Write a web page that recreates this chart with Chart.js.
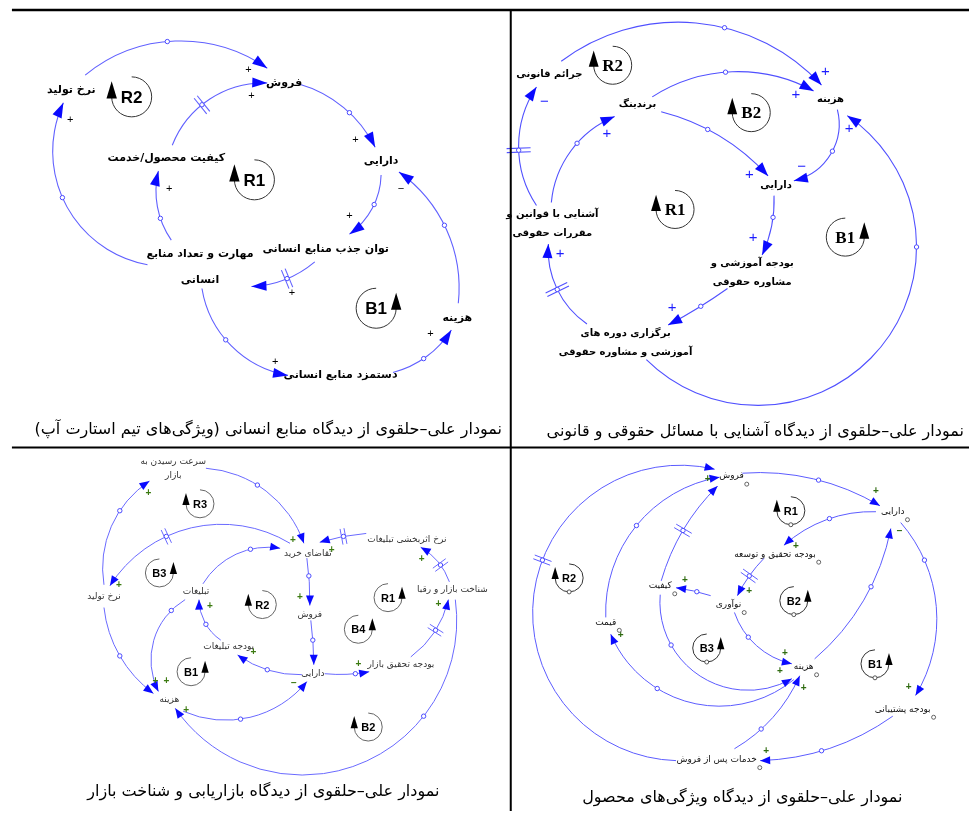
<!DOCTYPE html>
<html>
<head>
<meta charset="utf-8">
<script src="https://cdn.jsdelivr.net/npm/chart.js@4.4.1/dist/chart.umd.min.js"></script>
<style>
  html, body { margin: 0; padding: 0; background: #fff; }
  #wrap { width: 974px; height: 816px; position: relative; }
</style>
</head>
<body>
<div id="wrap"><canvas id="cld"></canvas></div>
<script>
// ---- panel 1: منابع انسانی ----
const p1Labels = ['نرخ تولید', 'فروش', 'کیفیت محصول/خدمت', 'دارایی', 'مهارت و تعداد منابع\nانسانی', 'توان جذب منابع انسانی', 'هزینه', 'دستمزد منابع انسانی'];
const p1X = [67, 282, 163, 380, 197, 324, 457, 339];
const p1Y = [86, 79, 155, 158, 265, 247, 317, 375];
const p1Loops = ['R2', 'R1', 'B1'];
const p1LoopX = [128, 252, 375];
const p1LoopY = [93, 177, 307];
const p1LoopSide = ['L', 'L', 'R'];
// [x1, y1, handleX, handleY, x2, y2, polarity, signX, signY, delay]
const p1Links = [
  [81, 71, 164, 37, 265, 64, '+', 246, 66, 0],
  [169, 142, 199, 101, 265, 79, '+', 249, 92, 1],
  [297, 80, 348, 109, 374, 144, '+', 354, 137, 0],
  [144, 263, 58, 195, 59, 99, '+', 66, 116, 0],
  [168, 238, 157, 216, 155, 168, '+', 166, 186, 0],
  [380, 172, 373, 202, 348, 232, '+', 348, 214, 0],
  [313, 260, 285, 277, 249, 285, '+', 290, 292, 1],
  [458, 302, 444, 223, 398, 169, '−', 400, 186, 0],
  [199, 287, 223, 339, 286, 375, '+', 273, 361, 0],
  [392, 372, 423, 358, 451, 329, '+', 430, 333, 0]
];

// ---- panel 2: مسائل حقوقی و قانونی ----
const p2Labels = ['جرائم قانونی', 'برندینگ', 'هزینه', 'دارایی', 'آشنایی با قوانین و\nمقررات حقوقی', 'بودجه آموزشی و\nمشاوره حقوقی', 'برگزاری دوره های\nآموزشی و مشاوره حقوقی'];
const p2X = [550, 639, 834, 779, 553, 755, 627];
const p2Y = [70, 101, 96, 183, 222, 271, 342];
const p2Loops = ['R2', 'B2', 'R1', 'B1'];
const p2LoopX = [614, 754, 677, 849];
const p2LoopY = [61, 109, 207, 235];
const p2LoopSide = ['L', 'L', 'L', 'R'];
const p2Links = [
  [562, 57, 727, 23, 825, 81, '+', 829, 68, 0],
  [654, 93, 728, 68, 817, 87, '+', 799, 91, 0],
  [663, 108, 710, 126, 771, 173, '+', 752, 172, 0],
  [841, 106, 836, 148, 797, 178, '−', 805, 164, 0],
  [537, 203, 519, 147, 537, 83, '−', 545, 98, 1],
  [552, 200, 578, 140, 616, 113, '+', 608, 130, 0],
  [777, 193, 776, 215, 765, 253, '+', 756, 236, 0],
  [730, 287, 703, 305, 670, 324, '+', 674, 307, 0],
  [588, 323, 558, 288, 549, 242, '+', 561, 252, 1],
  [648, 359, 921, 245, 851, 112, '+', 853, 125, 0]
];

// ---- panel 3: بازاریابی و شناخت بازار ----
const p3Labels = ['سرعت رسیدن به\nبازار', 'نرخ تولید', 'تبلیغات', 'تقاضای خرید', 'نرخ اثربخشی تبلیغات', 'شناخت بازار و رقبا', 'فروش', 'بودجه تبلیغات', 'دارایی', 'بودجه تحقیق بازار', 'هزینه'];
const p3X = [170, 100, 193, 306, 406, 452, 308, 226, 311, 400, 166];
const p3Y = [469, 599, 594, 555, 541, 592, 617, 650, 677, 668, 703];
const p3Loops = ['R3', 'B3', 'R2', 'R1', 'B4', 'B1', 'B2'];
const p3LoopX = [197, 156, 260, 387, 357, 188, 367];
const p3LoopY = [505, 575, 607, 600, 632, 675, 731];
const p3LoopSide = ['L', 'R', 'L', 'R', 'R', 'R', 'L'];
const p3Links = [
  [100, 587, 116, 512, 146, 482, '+', 145, 494, 0],
  [203, 469, 255, 486, 302, 545, '+', 291, 542, 0],
  [288, 545, 163, 538, 106, 588, '+', 115, 587, 1],
  [200, 586, 248, 551, 278, 550, '', 0, 0, 0],
  [365, 535, 342, 538, 318, 544, '+', 330, 552, 1],
  [449, 584, 440, 567, 420, 549, '+', 421, 561, 1],
  [410, 660, 435, 633, 448, 602, '+', 438, 607, 1],
  [305, 560, 307, 578, 308, 608, '+', 298, 600, 0],
  [309, 623, 311, 643, 312, 668, '', 0, 0, 0],
  [300, 678, 265, 673, 235, 658, '+', 251, 655, 0],
  [323, 677, 354, 677, 368, 675, '+', 357, 667, 0],
  [218, 643, 203, 627, 196, 602, '+', 207, 609, 0],
  [182, 602, 168, 613, 155, 695, '+', 163, 685, 0],
  [100, 610, 116, 659, 150, 697, '+', 152, 685, 0],
  [180, 715, 238, 723, 305, 685, '−', 292, 687, 0],
  [455, 602, 423, 720, 172, 712, '+', 183, 714, 0]
];

// ---- panel 4: ویژگی‌های محصول ----
const p4Labels = ['فروش', 'دارایی', 'بودجه تحقیق و توسعه', 'کیفیت', 'نوآوری', 'قیمت', 'هزینه', 'بودجه پشتیبانی', 'خدمات پس از فروش'];
const p4X = [734, 897, 778, 662, 731, 607, 807, 907, 719];
const p4Y = [477, 513, 556, 588, 607, 625, 670, 713, 764];
const p4Loops = ['R1', 'B2', 'R2', 'B3', 'B1'];
const p4LoopX = [794, 797, 570, 709, 879];
const p4LoopY = [512, 603, 580, 651, 667];
const p4LoopSide = ['L', 'R', 'L', 'R', 'R'];
const p4Links = [
  [745, 474, 822, 481, 884, 507, '+', 880, 492, 0],
  [880, 513, 833, 520, 787, 547, '+', 799, 548, 0],
  [767, 560, 752, 578, 740, 598, '+', 752, 594, 1],
  [713, 598, 699, 594, 678, 590, '+', 687, 582, 0],
  [663, 583, 685, 532, 720, 487, '', 0, 0, 1],
  [607, 620, 638, 527, 722, 478, '+', 710, 480, 0],
  [678, 765, 543, 562, 717, 470, '', 0, 0, 1],
  [662, 597, 673, 648, 795, 682, '+', 783, 675, 0],
  [737, 615, 751, 640, 795, 667, '+', 788, 656, 0],
  [797, 683, 659, 692, 612, 637, '+', 622, 638, 0],
  [737, 753, 764, 733, 803, 679, '+', 807, 692, 0],
  [818, 662, 875, 589, 895, 530, '−', 904, 533, 0],
  [905, 524, 929, 562, 920, 699, '+', 913, 691, 0],
  [897, 720, 825, 755, 763, 765, '+', 769, 756, 0]
];

const captions = [
  'نمودار علی–حلقوی از دیدگاه منابع انسانی (ویژگی‌های تیم استارت آپ)',
  'نمودار علی–حلقوی از دیدگاه آشنایی با مسائل حقوقی و قانونی',
  'نمودار علی–حلقوی از دیدگاه بازاریابی و شناخت بازار',
  'نمودار علی–حلقوی از دیدگاه ویژگی‌های محصول'
];
const captionX = [266, 758, 261, 745];
const captionY = [430, 432, 797, 803];

const FA = '"DejaVu Sans"';
const panels = [
  { labels: p1Labels, x: p1X, y: p1Y, loops: p1Loops, lx: p1LoopX, ly: p1LoopY, side: p1LoopSide, links: p1Links,
    font: 'bold 11px ' + FA, color: '#000', lh: 26, loopFont: 'bold 17px "Liberation Sans"', loopR: 20,
    head: [15, 5], delay: 10, signFont: '11px "Liberation Sans"', sign: '#000', line: '#6060ff', lw: 1.1 },
  { labels: p2Labels, x: p2X, y: p2Y, loops: p2Loops, lx: p2LoopX, ly: p2LoopY, side: p2LoopSide, links: p2Links,
    font: 'bold 10px ' + FA, color: '#000', lh: 19, loopFont: 'bold 17px "Liberation Serif"', loopR: 19,
    head: [14, 5], delay: 12, signFont: '15px "Liberation Sans"', sign: '#1d1dff', line: '#5050ff', lw: 1.1 },
  { labels: p3Labels, x: p3X, y: p3Y, loops: p3Loops, lx: p3LoopX, ly: p3LoopY, side: p3LoopSide, links: p3Links,
    font: '9px ' + FA, color: '#333', lh: 14, loopFont: 'bold 11px "Liberation Sans"', loopR: 14,
    head: [10, 4], delay: 8, signFont: 'bold 10px "Liberation Sans"', sign: '#3b7a10', line: '#6a6aff', lw: 1, loopColor: '#666' },
  { labels: p4Labels, x: p4X, y: p4Y, loops: p4Loops, lx: p4LoopX, ly: p4LoopY, side: p4LoopSide, links: p4Links,
    font: '9px ' + FA, color: '#111', lh: 14, loopFont: 'bold 11px "Liberation Sans"', loopR: 14,
    head: [10, 4], delay: 9, signFont: 'bold 10px "Liberation Sans"', sign: '#2f6b10', line: '#5c5cff', lw: 1, loopDot: true }
];

const TAU = Math.PI * 2;
const norm = v => ((v % TAU) + TAU) % TAU;

// circle through start, handle and end (Vensim style arc)
function arcGeom(a, h, b) {
  const d = 2 * (a.x * (h.y - b.y) + h.x * (b.y - a.y) + b.x * (a.y - h.y));
  if (Math.abs(d) < 1e-3) return null;
  const a2 = a.x * a.x + a.y * a.y, h2 = h.x * h.x + h.y * h.y, b2 = b.x * b.x + b.y * b.y;
  const cx = (a2 * (h.y - b.y) + h2 * (b.y - a.y) + b2 * (a.y - h.y)) / d;
  const cy = (a2 * (b.x - h.x) + h2 * (a.x - b.x) + b2 * (h.x - a.x)) / d;
  const r = Math.hypot(a.x - cx, a.y - cy);
  if (r > 4000) return null;
  const t0 = Math.atan2(a.y - cy, a.x - cx);
  const th = Math.atan2(h.y - cy, h.x - cx);
  const t1 = Math.atan2(b.y - cy, b.x - cx);
  const cw = norm(th - t0) < norm(t1 - t0);
  return { cx, cy, r, t0, th, t1, cw };
}

function tangentAt(g, t) {
  return g.cw ? { x: -Math.sin(t), y: Math.cos(t) } : { x: Math.sin(t), y: -Math.cos(t) };
}

function linkPoints(chart, l) {
  const sx = chart.scales.x, sy = chart.scales.y;
  return {
    a: { x: sx.getPixelForValue(l[0]), y: sy.getPixelForValue(l[1]) },
    h: { x: sx.getPixelForValue(l[2]), y: sy.getPixelForValue(l[3]) },
    b: { x: sx.getPixelForValue(l[4]), y: sy.getPixelForValue(l[5]) }
  };
}

const arcsPlugin = {
  id: 'cldArcs',
  beforeDatasetsDraw(chart) {
    const { ctx } = chart;
    ctx.save();
    panels.forEach(p => {
      ctx.strokeStyle = p.line;
      ctx.lineWidth = p.lw;
      p.links.forEach(l => {
        const { a, h, b } = linkPoints(chart, l);
        const g = arcGeom(a, h, b);
        ctx.beginPath();
        if (g) {
          ctx.arc(g.cx, g.cy, g.r, g.t0, g.t1, !g.cw);
        } else {
          ctx.moveTo(a.x, a.y);
          ctx.lineTo(b.x, b.y);
        }
        ctx.stroke();
        // delay mark
        if (l[9]) {
          let dir, nrm;
          if (g) {
            dir = tangentAt(g, g.th);
            nrm = { x: Math.cos(g.th), y: Math.sin(g.th) };
          } else {
            const len = Math.hypot(b.x - a.x, b.y - a.y);
            dir = { x: (b.x - a.x) / len, y: (b.y - a.y) / len };
            nrm = { x: -dir.y, y: dir.x };
          }
          [-2, 2].forEach(off => {
            ctx.beginPath();
            ctx.moveTo(h.x + dir.x * off - nrm.x * p.delay, h.y + dir.y * off - nrm.y * p.delay);
            ctx.lineTo(h.x + dir.x * off + nrm.x * p.delay, h.y + dir.y * off + nrm.y * p.delay);
            ctx.stroke();
          });
        }
      });
    });
    ctx.restore();
  },
  afterDatasetsDraw(chart) {
    const { ctx } = chart;
    const sx = chart.scales.x, sy = chart.scales.y;
    ctx.save();

    panels.forEach(p => {
      // arrowheads
      ctx.fillStyle = '#0a0aff';
      p.links.forEach(l => {
        const { a, h, b } = linkPoints(chart, l);
        const g = arcGeom(a, h, b);
        let dir;
        if (g) dir = tangentAt(g, g.t1);
        else {
          const len = Math.hypot(b.x - a.x, b.y - a.y);
          dir = { x: (b.x - a.x) / len, y: (b.y - a.y) / len };
        }
        const [hl, hw] = p.head;
        const bx = b.x - dir.x * hl, by = b.y - dir.y * hl;
        ctx.beginPath();
        ctx.moveTo(b.x, b.y);
        ctx.lineTo(bx - dir.y * hw, by + dir.x * hw);
        ctx.lineTo(bx + dir.y * hw, by - dir.x * hw);
        ctx.closePath();
        ctx.fill();
      });

      // polarity signs
      ctx.font = p.signFont;
      ctx.fillStyle = p.sign;
      ctx.textAlign = 'center';
      ctx.textBaseline = 'middle';
      ctx.direction = 'ltr';
      p.links.forEach(l => {
        if (!l[6]) return;
        ctx.fillText(l[6], sx.getPixelForValue(l[7]), sy.getPixelForValue(l[8]));
      });

      // variable names
      ctx.font = p.font;
      ctx.fillStyle = p.color;
      ctx.direction = 'rtl';
      p.labels.forEach((txt, i) => {
        const lines = txt.split('\n');
        const cx = sx.getPixelForValue(p.x[i]);
        const cy = sy.getPixelForValue(p.y[i]);
        let maxW = 0;
        lines.forEach((ln, k) => {
          ctx.fillText(ln, cx, cy + (k - (lines.length - 1) / 2) * p.lh);
          maxW = Math.max(maxW, ctx.measureText(ln).width);
        });
        if (p.loopDot) {
          ctx.save();
          ctx.beginPath();
          ctx.arc(cx + maxW / 2 + 3, cy + 8, 2, 0, TAU);
          ctx.fillStyle = '#fff';
          ctx.fill();
          ctx.strokeStyle = '#555';
          ctx.lineWidth = 0.9;
          ctx.stroke();
          ctx.restore();
        }
      });

      // loop identifiers
      p.loops.forEach((name, i) => {
        const cx = sx.getPixelForValue(p.lx[i]);
        const cy = sy.getPixelForValue(p.ly[i]);
        const r = p.loopR;
        const left = p.side[i] === 'L';
        ctx.strokeStyle = p.loopColor || '#333';
        ctx.lineWidth = 1;
        ctx.beginPath();
        if (left) ctx.arc(cx, cy, r, Math.PI, -Math.PI / 2, true);
        else ctx.arc(cx, cy, r, 0, Math.PI * 1.5, false);
        ctx.stroke();
        const ax = left ? cx - r : cx + r;
        ctx.fillStyle = '#000';
        ctx.beginPath();
        ctx.moveTo(ax, cy - r * 0.78);
        ctx.lineTo(ax - r * 0.26, cy + r * 0.08);
        ctx.lineTo(ax + r * 0.26, cy + r * 0.08);
        ctx.closePath();
        ctx.fill();
        if (p.loopDot) {
          ctx.beginPath();
          ctx.arc(cx, cy + r, 2, 0, TAU);
          ctx.fillStyle = '#fff';
          ctx.fill();
          ctx.strokeStyle = '#555';
          ctx.stroke();
        }
        ctx.font = p.loopFont;
        ctx.fillStyle = '#000';
        ctx.direction = 'ltr';
        ctx.textAlign = 'center';
        ctx.textBaseline = 'middle';
        ctx.fillText(name, cx, cy + 1);
        ctx.direction = 'rtl';
      });
    });

    // panel frame
    ctx.strokeStyle = '#000';
    ctx.lineWidth = 2.5;
    ctx.beginPath();
    ctx.moveTo(sx.getPixelForValue(7), sy.getPixelForValue(5));
    ctx.lineTo(sx.getPixelForValue(974), sy.getPixelForValue(5));
    ctx.stroke();
    ctx.lineWidth = 2;
    ctx.beginPath();
    ctx.moveTo(sx.getPixelForValue(7), sy.getPixelForValue(448));
    ctx.lineTo(sx.getPixelForValue(974), sy.getPixelForValue(448));
    ctx.moveTo(sx.getPixelForValue(511), sy.getPixelForValue(5));
    ctx.lineTo(sx.getPixelForValue(511), sy.getPixelForValue(816));
    ctx.stroke();

    // captions
    ctx.font = '16px ' + FA;
    ctx.fillStyle = '#000';
    ctx.direction = 'rtl';
    ctx.textAlign = 'center';
    ctx.textBaseline = 'middle';
    captions.forEach((c, i) => {
      ctx.fillText(c, sx.getPixelForValue(captionX[i]), sy.getPixelForValue(captionY[i]));
    });
    ctx.restore();
  }
};

const handlePoints = [];
panels.forEach(p => p.links.forEach(l => handlePoints.push({ x: l[2], y: l[3] })));

new Chart(document.getElementById('cld'), {
  type: 'scatter',
  data: {
    datasets: [{
      label: 'handles',
      data: handlePoints,
      pointRadius: 2.2,
      pointBackgroundColor: '#fff',
      pointBorderColor: '#4a4aff',
      pointBorderWidth: 1,
      showLine: false
    }]
  },
  options: {
    responsive: true,
    maintainAspectRatio: false,
    animation: false,
    layout: { padding: 0 },
    scales: {
      x: { type: 'linear', min: 0, max: 974, display: false },
      y: { type: 'linear', min: 0, max: 816, reverse: true, display: false }
    },
    plugins: { legend: { display: false }, tooltip: { enabled: false } },
    events: []
  },
  plugins: [arcsPlugin]
});
</script>
</body>
</html>
